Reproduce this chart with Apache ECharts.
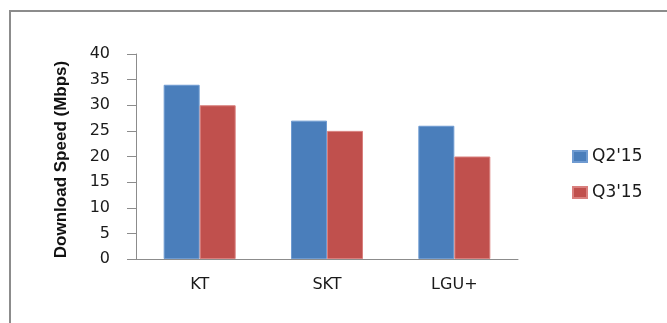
<!DOCTYPE html>
<html>
<head>
<meta charset="utf-8">
<script src="https://cdn.jsdelivr.net/npm/echarts@6/dist/echarts.min.js"></script>
<style>
html,body{margin:0;padding:0;background:#fff;}
#c{width:667px;height:323px;}
</style>
</head>
<body>
<div id="c"></div>
<script>
var categories = ['KT', 'SKT', 'LGU+'];
var seriesNames = ["Q2'15", "Q3'15"];
var q2Values = [34, 27, 26];
var q3Values = [30, 25, 20];
var yTicks = [0, 5, 10, 15, 20, 25, 30, 35, 40];

var chart = echarts.init(document.getElementById('c'), null, {renderer: 'canvas'});
var labelFont = 'DejaVu Sans, Verdana, sans-serif';
chart.setOption({
  animation: false,
  backgroundColor: '#ffffff',
  graphic: [{
    type: 'rect',
    shape: {x: 10, y: 11, width: 720, height: 400},
    style: {fill: 'none', stroke: '#8c8c8c', lineWidth: 2},
    silent: true
  }],
  grid: {left: 136, right: 149, top: 54, bottom: 64, containLabel: false},
  legend: {
    orient: 'vertical',
    left: 567,
    top: 143,
    itemWidth: 14,
    itemHeight: 11,
    itemGap: 19,
    icon: 'rect',
    textStyle: {fontFamily: labelFont, fontSize: 17, color: '#1a1a1a'},
    data: seriesNames
  },
  xAxis: {
    type: 'category',
    data: categories,
    axisLine: {lineStyle: {color: '#8c8c8c', width: 1}},
    axisTick: {show: false},
    axisLabel: {fontFamily: labelFont, fontSize: 16, color: '#1a1a1a', margin: 18}
  },
  yAxis: {
    type: 'value',
    min: yTicks[0],
    max: yTicks[yTicks.length - 1],
    interval: 5,
    name: 'Download Speed (Mbps)',
    nameLocation: 'middle',
    nameGap: 66,
    nameTextStyle: {fontFamily: 'Liberation Sans Narrow, Liberation Sans, sans-serif', fontWeight: 'bold', fontSize: 17, color: '#111', padding: [0, 6, 0, 0]},
    axisLine: {show: true, lineStyle: {color: '#8c8c8c', width: 1}},
    axisTick: {show: true, inside: false, length: 9, lineStyle: {color: '#8c8c8c'}},
    splitLine: {show: false},
    axisLabel: {fontFamily: labelFont, fontSize: 16, color: '#1a1a1a', margin: 26}
  },
  series: [
    {name: seriesNames[0], type: 'bar', data: q2Values, barWidth: 36, barGap: '0%',
     itemStyle: {color: '#4a7ebb', borderColor: '#6f9bd1', borderWidth: 1}},
    {name: seriesNames[1], type: 'bar', data: q3Values, barWidth: 36, barGap: '0%',
     itemStyle: {color: '#c0504d', borderColor: '#d9807e', borderWidth: 1}}
  ]
});
</script>
</body>
</html>
